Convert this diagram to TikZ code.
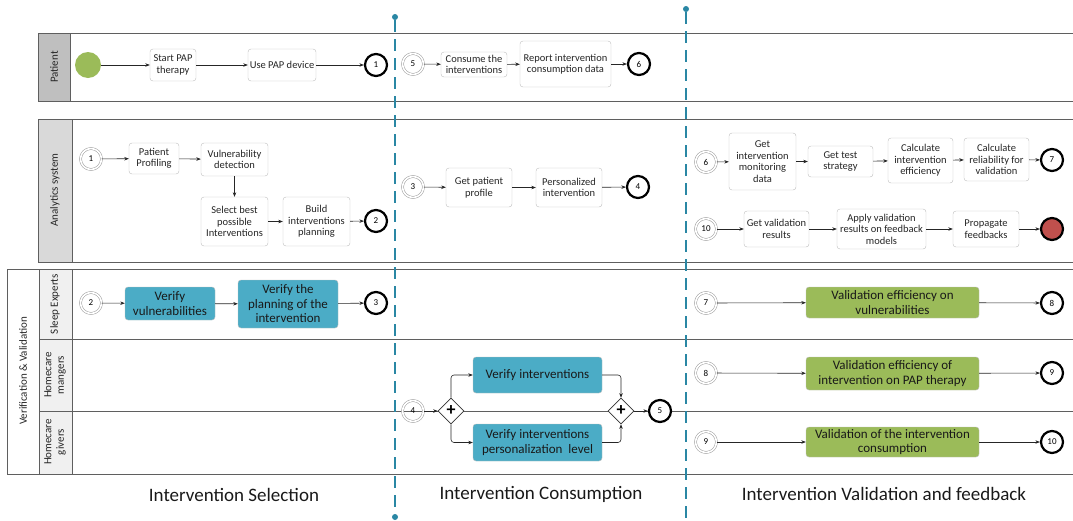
\documentclass[tikz,border=0pt]{standalone}
\usepackage{fontspec}
\setmainfont{Carlito}
\usetikzlibrary{arrows.meta,shapes.geometric}
\definecolor{poolline}{HTML}{5F5F5F}
\definecolor{boxline}{HTML}{BDBDBD}
\definecolor{tealfill}{HTML}{4BACC6}
\definecolor{greenfill}{HTML}{9BBB59}
\definecolor{redfill}{HTML}{C0504D}
\definecolor{dashteal}{HTML}{2A87A4}
\definecolor{hdrdark}{HTML}{BFBFBF}
\definecolor{hdrmid}{HTML}{D9D9D9}
\definecolor{hdrlight}{HTML}{F0F0F0}
\begin{document}
\begin{tikzpicture}[x=1pt,y=-1pt,
  task/.style={draw=boxline, rounded corners=3pt, fill=white, align=center, inner sep=1pt,
    font=\fontsize{10.5}{11.5}\selectfont, text=black!85},
  tealtask/.style={draw=boxline, rounded corners=3pt, fill=tealfill, align=center, inner sep=1pt,
    font=\fontsize{13}{14.5}\selectfont, text=black!90},
  greentask/.style={draw=boxline, rounded corners=3pt, fill=greenfill, align=center, inner sep=1pt,
    font=\fontsize{13}{14.5}\selectfont, text=black!90},
  startev/.style={circle, draw=black!40, line width=0.5pt, double=white, double distance=1.6pt,
    minimum size=21pt, inner sep=0pt, font=\fontsize{9}{9}\selectfont},
  endev/.style={circle, draw=black, line width=2.2pt, fill=white, minimum size=22pt, inner sep=0pt,
    font=\fontsize{9}{9}\selectfont},
  gate/.style={diamond, draw=black!80, fill=white, line width=0.6pt, minimum size=26pt, inner sep=0pt,
    font=\bfseries\fontsize{18}{18}\selectfont},
  flow/.style={draw=black!85, line width=0.6pt, -{Stealth[length=4.5pt,width=3.5pt]}},
  pool/.style={draw=poolline, line width=1pt},
  lanelbl/.style={rotate=90, align=center, font=\fontsize{11}{12.5}\selectfont, text=black!85},
  phase/.style={font=\fontsize{19}{21}\selectfont, text=black!90},
  divider/.style={draw=dashteal, line width=1.8pt, dash pattern=on 12pt off 7pt},
  enddot/.style={circle, fill=dashteal, minimum size=6pt, inner sep=0pt}
]
\useasboundingbox (0,0) rectangle (1073,520);

% ---------- pools ----------
% Patient
\fill[hdrdark] (38,33) rectangle (70,101);
\draw[pool] (1073,33) -- (38,33) -- (38,101) -- (1073,101);
\draw[pool] (70,33) -- (70,101);
\node[lanelbl] (lblPatient) at (54,67) {Patient};
% Analytics
\fill[hdrmid] (38,119) rectangle (72,262);
\draw[pool] (1073,119) -- (38,119) -- (38,262) -- (1073,262);
\draw[pool] (72,119) -- (72,262);
\node[lanelbl] (lblAnalytics) at (55,190) {Analytics system};
% Verification & Validation
\fill[hdrlight] (39,269) rectangle (72,474);
\draw[pool] (1073,269) -- (7,269) -- (7,474) -- (1073,474);
\draw[pool] (39,269) -- (39,474);
\draw[pool] (72,269) -- (72,474);
\draw[pool] (39,339) -- (1073,339);
\draw[pool] (39,411) -- (1073,411);
\node[lanelbl] (lblVV) at (23,371) {Verification \& Validation};
\node[lanelbl] (lblSleep) at (55,304) {Sleep Experts};
\node[lanelbl] (lblMgr) at (55,375) {Homecare\\mangers};
\node[lanelbl] (lblGiv) at (55,442) {Homecare\\givers};

% ---------- Patient lane ----------
\node[circle, fill=greenfill, minimum size=26pt, inner sep=0pt] (pstart) at (88,65) {};
\node[task, minimum width=46pt, minimum height=32pt] (sPAP) at (173,65) {Start PAP\\therapy};
\node[task, minimum width=68pt, minimum height=32pt] (uPAP) at (282,65) {Use PAP device};
\node[endev] (pe1) at (376,65) {1};
\draw[flow] (pstart) -- (sPAP);
\draw[flow] (sPAP) -- (uPAP);
\draw[flow] (uPAP) -- (pe1);

\node[startev] (ps5) at (413,64) {5};
\node[task, minimum width=66pt, minimum height=25pt] (cons) at (474,64.5) {Consume the\\interventions};
\node[task, minimum width=91pt, minimum height=46pt] (rep) at (565.5,64) {Report intervention\\consumption data};
\node[endev] (pe6) at (639,64) {6};
\draw[flow] (ps5) -- (cons);
\draw[flow] (cons) -- (rep);
\draw[flow] (rep) -- (pe6);

% ---------- Analytics lane ----------
\node[startev] (as1) at (91,159) {1};
\node[task, minimum width=50pt, minimum height=31pt] (pp) at (154,158.5) {Patient\\Profiling};
\node[task, minimum width=67pt, minimum height=33pt] (vd) at (234.5,159.5) {Vulnerability\\detection};
\node[task, minimum width=67pt, minimum height=49pt] (sb) at (234.5,221.5) {Select best\\possible\\Interventions};
\node[task, minimum width=67pt, minimum height=49pt] (bi) at (316.5,221.5) {Build\\interventions\\planning};
\node[endev] (ae2) at (376,221) {2};
\draw[flow] (as1) -- (pp);
\draw[flow] (pp) -- (vd);
\draw[flow] (vd) -- (sb);
\draw[flow] (sb) -- (bi);
\draw[flow] (bi) -- (ae2);

\node[startev] (as3) at (413,187) {3};
\node[task, minimum width=66pt, minimum height=39pt] (gpp) at (479,187.5) {Get patient\\profile};
\node[task, minimum width=66pt, minimum height=39pt] (pint) at (569,187.5) {Personalized\\intervention};
\node[endev] (ae4) at (638,187) {4};
\draw[flow] (as3) -- (gpp);
\draw[flow] (gpp) -- (pint);
\draw[flow] (pint) -- (ae4);

\node[startev] (as6) at (706,162) {6};
\node[task, minimum width=67pt, minimum height=57pt] (gim) at (762.5,161.5) {Get\\intervention\\monitoring\\data};
\node[task, minimum width=65pt, minimum height=31pt] (gts) at (840.5,161.5) {Get test\\strategy};
\node[task, minimum width=65pt, minimum height=45pt] (cie) at (920.5,160.5) {Calculate\\intervention\\efficiency};
\node[task, minimum width=65pt, minimum height=43pt] (crv) at (996.5,159.5) {Calculate\\reliability for\\validation};
\node[endev] (ae7) at (1052,160) {7};
\draw[flow] (as6) -- (gim);
\draw[flow] (gim) -- (gts);
\draw[flow] (gts) -- (cie);
\draw[flow] (cie) -- (crv);
\draw[flow] (crv) -- (ae7);

\node[startev] (as10) at (706,229) {10};
\node[task, minimum width=65pt, minimum height=36pt] (gvr) at (776.5,229) {Get validation\\results};
\node[task, minimum width=89pt, minimum height=40pt] (avr) at (881.5,229) {Apply validation\\results on feedback\\models};
\node[task, minimum width=66pt, minimum height=36pt] (pf) at (986,229) {Propagate\\feedbacks};
\node[circle, draw=black, line width=2.2pt, fill=redfill, minimum size=22pt, inner sep=0pt] (aend) at (1052,229) {};
\draw[flow] (as10) -- (gvr);
\draw[flow] (gvr) -- (avr);
\draw[flow] (avr) -- (pf);
\draw[flow] (pf) -- (aend);

% ---------- Sleep Experts lane ----------
\node[startev] (ss2) at (91,303) {2};
\node[tealtask, minimum width=90pt, minimum height=33pt] (vv) at (170,303.5) {Verify\\vulnerabilities};
\node[tealtask, minimum width=100pt, minimum height=48pt] (vpi) at (288,304) {Verify the\\planning of the\\intervention};
\node[endev] (se3) at (376,303) {3};
\draw[flow] (ss2) -- (vv);
\draw[flow] (vv) -- (vpi);
\draw[flow] (vpi) -- (se3);

\node[startev] (ss7) at (706,303) {7};
\node[greentask, minimum width=173pt, minimum height=31pt] (ve1) at (892.5,302.5) {Validation efficiency on\\vulnerabilities};
\node[endev] (se8) at (1052,303) {8};
\draw[flow] (ss7) -- (ve1);
\draw[flow] (ve1) -- (se8);

% ---------- Homecare lanes ----------
\node[startev] (hs4) at (413,411) {4};
\node[gate] (g1) at (451,411) {+};
\node[tealtask, minimum width=129pt, minimum height=36pt] (vi) at (537.5,375) {Verify interventions};
\node[tealtask, minimum width=129pt, minimum height=37pt] (vipl) at (537.5,442.5) {Verify interventions\\personalization\ \ level};
\node[gate] (g2) at (621,411) {+};
\node[endev] (he5) at (660,411) {5};
\draw[flow] (hs4) -- (g1);
\draw[flow, rounded corners=3pt] (g1.north) |- (vi.west);
\draw[flow, rounded corners=3pt] (g1.south) |- (vipl.west);
\draw[flow, rounded corners=3pt] (vi.east) -| (g2.north);
\draw[flow, rounded corners=3pt] (vipl.east) -| (g2.south);
\draw[flow] (g2) -- (he5);

\node[startev] (hs8) at (706,373) {8};
\node[greentask, minimum width=173pt, minimum height=33pt] (ve2) at (892.5,373.5) {Validation efficiency of\\intervention on PAP therapy};
\node[endev] (he9) at (1052,373) {9};
\draw[flow] (hs8) -- (ve2);
\draw[flow] (ve2) -- (he9);

\node[startev] (hs9) at (706,442) {9};
\node[greentask, minimum width=173pt, minimum height=30pt] (ve3) at (892.5,442) {Validation of the intervention\\consumption};
\node[endev] (he10) at (1052,442) {10};
\draw[flow] (hs9) -- (ve3);
\draw[flow] (ve3) -- (he10);

% ---------- phase dividers ----------
\node[enddot] (d1t) at (395,17) {};
\node[enddot] (d1b) at (395,517) {};
\node[enddot] (d2t) at (686,9) {};
\coordinate (d2b) at (686,520);
\draw[divider] (d1t) -- (d1b);
\draw[divider] (d2t) -- (d2b);

% ---------- phase labels ----------
\node[phase] (ph1) at (234,495) {Intervention Selection};
\node[phase] (ph2) at (541,494) {Intervention Consumption};
\node[phase] (ph3) at (884,494) {Intervention Validation and feedback};
\end{tikzpicture}
\end{document}
